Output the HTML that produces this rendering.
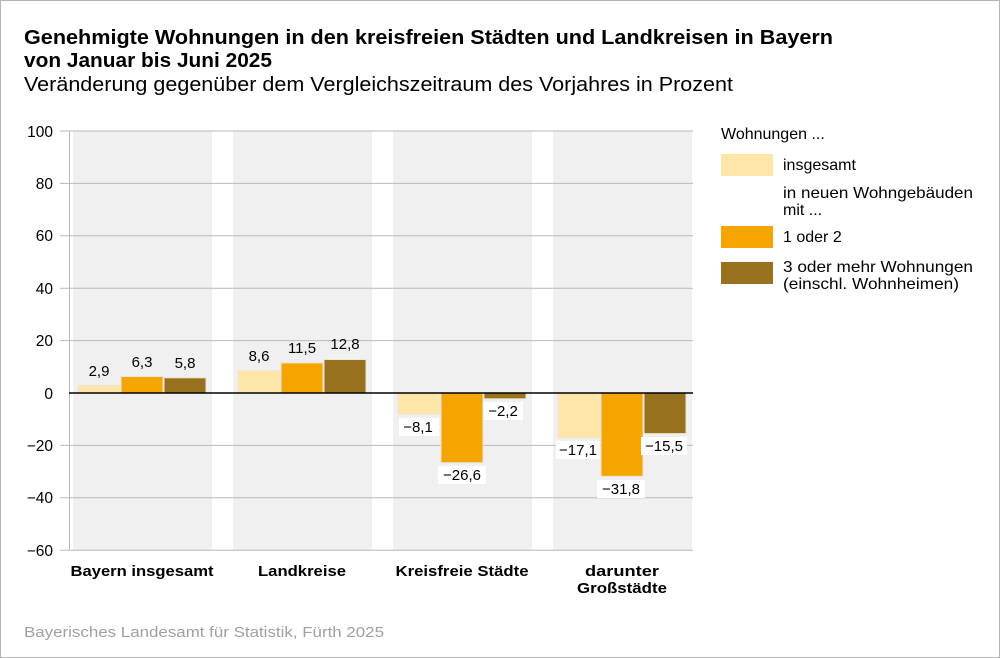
<!DOCTYPE html>
<html><head><meta charset="utf-8"><style>
html,body{margin:0;padding:0;background:#fff}
svg{display:block;font-family:"Liberation Sans",Arial,sans-serif}
</style></head><body>
<svg width="1000" height="658" viewBox="0 0 1000 658" xmlns="http://www.w3.org/2000/svg">
<rect x="0.5" y="0.5" width="999" height="657" fill="#fff" stroke="#b4b4b4"/>
<text x="24" y="44" font-size="20" font-weight="bold" fill="#000" textLength="809" lengthAdjust="spacingAndGlyphs">Genehmigte Wohnungen in den kreisfreien Städten und Landkreisen in Bayern</text>
<text x="24" y="67" font-size="20" font-weight="bold" fill="#000" textLength="248" lengthAdjust="spacingAndGlyphs">von Januar bis Juni 2025</text>
<text x="24" y="91" font-size="20" fill="#000" textLength="709" lengthAdjust="spacingAndGlyphs">Veränderung gegenüber dem Vergleichszeitraum des Vorjahres in Prozent</text>
<g fill="#f0f0f0">
<rect x="73" y="131" width="139" height="419"/>
<rect x="233" y="131" width="139" height="419"/>
<rect x="393" y="131" width="139" height="419"/>
<rect x="553" y="131" width="139" height="419"/>
</g>
<g stroke="#b9b9b9" stroke-width="1">
<line x1="60" y1="131" x2="693" y2="131"/>
<line x1="60" y1="183.4" x2="693" y2="183.4"/>
<line x1="60" y1="235.8" x2="693" y2="235.8"/>
<line x1="60" y1="288.2" x2="693" y2="288.2"/>
<line x1="60" y1="340.6" x2="693" y2="340.6"/>
<line x1="60" y1="445.4" x2="693" y2="445.4"/>
<line x1="60" y1="497.8" x2="693" y2="497.8"/>
<line x1="60" y1="550.2" x2="693" y2="550.2"/>
<line x1="69.5" y1="131" x2="69.5" y2="550"/>
</g>
<g font-size="15.5" text-anchor="end" fill="#000">
<text x="53" y="137">100</text>
<text x="53" y="189">80</text>
<text x="53" y="241">60</text>
<text x="53" y="294">40</text>
<text x="53" y="346">20</text>
<text x="53" y="399">0</text>
<text x="53" y="451">−20</text>
<text x="53" y="503">−40</text>
<text x="53" y="556">−60</text>
</g>
<g stroke="#ece5d5" stroke-width="1">
<rect x="78" y="385.4" width="42" height="7.6" fill="#ffe5a8"/>
<rect x="121" y="376.5" width="42" height="16.5" fill="#f5a500"/>
<rect x="164" y="377.8" width="42" height="15.2" fill="#98711f"/>
<rect x="238" y="370.5" width="42" height="22.5" fill="#ffe5a8"/>
<rect x="281" y="362.9" width="42" height="30.1" fill="#f5a500"/>
<rect x="324" y="359.5" width="42" height="33.5" fill="#98711f"/>
<rect x="398" y="393" width="42" height="21.2" fill="#ffe5a8"/>
<rect x="441" y="393" width="42" height="69.7" fill="#f5a500"/>
<rect x="484" y="393" width="42" height="5.8" fill="#98711f"/>
<rect x="558" y="393" width="42" height="44.8" fill="#ffe5a8"/>
<rect x="601" y="393" width="42" height="83.3" fill="#f5a500"/>
<rect x="644" y="393" width="42" height="40.6" fill="#98711f"/>
</g>
<line x1="69" y1="393" x2="693" y2="393" stroke="#000" stroke-width="1.6"/>
<g fill="#fff">
<rect x="399" y="418" width="40" height="18"/>
<rect x="438" y="466" width="48" height="18"/>
<rect x="483" y="402" width="40" height="18"/>
<rect x="556" y="441" width="44" height="18"/>
<rect x="597" y="480" width="48" height="18"/>
<rect x="641" y="437" width="46" height="18"/>
</g>
<g font-size="15" text-anchor="middle" fill="#000">
<text x="99" y="376">2,9</text>
<text x="142" y="367">6,3</text>
<text x="185" y="368">5,8</text>
<text x="259" y="361">8,6</text>
<text x="302" y="353">11,5</text>
<text x="345" y="349">12,8</text>
<text x="418" y="432">−8,1</text>
<text x="462" y="480">−26,6</text>
<text x="503" y="416">−2,2</text>
<text x="578" y="455">−17,1</text>
<text x="621" y="494">−31,8</text>
<text x="664" y="451">−15,5</text>
</g>
<g font-size="15" font-weight="bold" text-anchor="middle" fill="#000">
<text x="142" y="576" textLength="143" lengthAdjust="spacingAndGlyphs">Bayern insgesamt</text>
<text x="302" y="576" textLength="88" lengthAdjust="spacingAndGlyphs">Landkreise</text>
<text x="462" y="576" textLength="133" lengthAdjust="spacingAndGlyphs">Kreisfreie Städte</text>
<text x="622" y="576" textLength="74" lengthAdjust="spacingAndGlyphs">darunter</text>
<text x="622" y="593" textLength="90" lengthAdjust="spacingAndGlyphs">Großstädte</text>
</g>
<g font-size="16" fill="#000">
<text x="721" y="139">Wohnungen ...</text>
<rect x="721" y="154" width="52" height="22" fill="#ffe5a8"/>
<text x="783" y="170">insgesamt</text>
<text x="783" y="198" textLength="190" lengthAdjust="spacingAndGlyphs">in neuen Wohngebäuden</text>
<text x="783" y="215">mit ...</text>
<rect x="721" y="226" width="52" height="22" fill="#f5a500"/>
<text x="783" y="242">1 oder 2</text>
<rect x="721" y="262" width="52" height="22" fill="#98711f"/>
<text x="783" y="272" textLength="190" lengthAdjust="spacingAndGlyphs">3 oder mehr Wohnungen</text>
<text x="783" y="289" textLength="176" lengthAdjust="spacingAndGlyphs">(einschl. Wohnheimen)</text>
</g>
<text x="24" y="637" font-size="15" fill="#a0a0a0" textLength="360" lengthAdjust="spacingAndGlyphs">Bayerisches Landesamt für Statistik, Fürth 2025</text>
</svg>
</body></html>
